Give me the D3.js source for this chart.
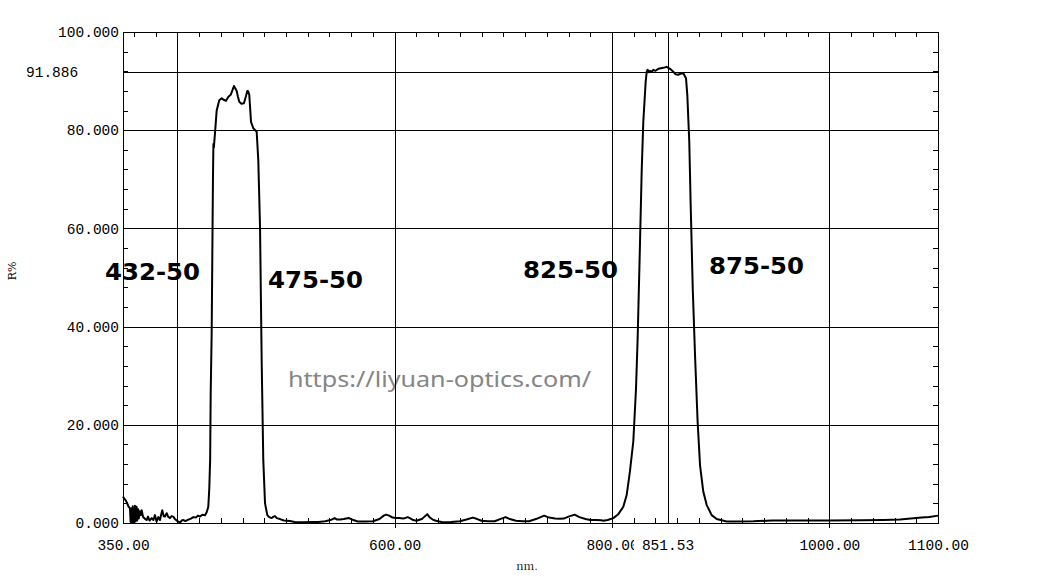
<!DOCTYPE html>
<html>
<head>
<meta charset="utf-8">
<script src="https://cdn.jsdelivr.net/npm/d3@7/dist/d3.min.js"></script>
<style>
  html, body { margin: 0; padding: 0; background: #fff; }
  svg { display: block; }
</style>
</head>
<body>
<svg id="chart" width="1061" height="577"></svg>
<script>
// ---- data ----
const wavelengths = [
  350,351,352.5,353.5,355,356.4,357,357.4,358,358.5,359,359.5,360,360.5,361,361.5,362.5,363,364,364.5,365.5,366.5,367.2,368.5,370,371.8,373,374.5,376.4,378,379.4,380.9,382.5,384,386.1,387.5,388.6,390.2,391.5,393.2,394.8,396.3,397.8,399.4,401,402.5,404,405.5,407.5,410.1,412.5,414.7,417,419,420.9,423,425.5,427,428.5,429.4,430.2,430.7,431.6,432.4,432.8,433.2,433.6,434.7,436.2,438.6,440.8,442.5,444.8,447,449.1,451,452.1,453.4,454.6,455.8,457,459,461.3,463,464.4,465.3,466.2,467,467.8,469.9,473,474.5,476.1,477.6,479.1,480.7,482.8,484.5,486.8,488.5,489.9,491.5,494.5,498,503.7,508,515,524,530,536,541,544.8,547,550,553,558,562,566,573,580,586,590,592,595,598,601,604,608,612,614,617,620,625,628,630,632,635,638,644,652,660,666,672,676,680,686,692,697,702,706,711.6,718,723.7,730,737.6,742,747.6,752,755.6,760,765.6,770,775.6,780,785.7,790,792,796,801.2,805.8,810.4,813.5,816.5,819.6,822.1,823.6,825.8,827.3,828.8,831,832,832.8,834,835,836.5,838,840,842.6,845,847.2,850.3,853.4,856.4,858.5,861,863,865.6,868.1,869.3,871.1,872.4,874.3,876.4,878.8,881,884,887.1,891.7,896.3,905.5,915,930,947,970,1000,1030,1050,1065,1075,1085,1092,1100
];
const reflectance = [
  5.4,5.0,4.6,4.2,3.4,3.0,0.3,0,3.0,0.2,3.4,0.1,2.6,0.4,3.5,0.3,3.3,0.5,2.8,0.9,2.4,1.6,2.6,1.2,0.9,0.6,1.3,0.5,1.0,0.6,1.6,0.3,1.2,0.6,2.6,1.4,1.3,2.0,1.3,1.0,1.4,1.3,0.8,0.5,0.3,0.1,0.5,0.6,0.4,0.7,0.9,1.2,1.1,1.5,1.3,1.7,1.6,2.2,3.3,7,13,26.5,38.7,60,70.5,77.2,76.5,79.5,84,86.1,86.5,86.2,86,86.8,87.2,88.3,89,88.5,88,86.8,85.8,85.4,85.5,86.8,88,87.9,87.2,84.5,81.7,80.4,79.7,73.9,60.3,33.2,12.8,4,1.6,1.2,1.0,1.3,1.4,1.0,0.8,0.5,0.4,0.2,0.15,0.2,0.2,0.35,0.6,1.0,0.7,0.7,0.8,1.0,0.6,0.3,0.3,0.35,0.8,1.5,1.7,1.5,1.1,1.0,1.0,0.9,1.2,1.0,0.6,0.45,0.8,1.4,1.8,1.2,0.7,0.45,0.15,0.2,0.35,0.7,1.1,0.8,0.45,0.35,0.35,0.8,1.2,0.8,0.45,0.35,0.35,0.8,1.5,1.1,0.9,0.85,0.9,1.3,1.7,1.2,0.8,0.6,0.6,0.55,0.45,0.6,1.0,1.8,3.3,5.7,10.5,16.6,27.4,37.6,57.3,71.5,81.7,89.9,92.0,92.3,91.8,92.1,91.9,92.3,92.1,92.5,92.6,92.7,92.9,92.5,91.9,91.4,91.3,91.5,91.6,90.6,87.2,77.7,64.8,47.8,34.2,20.6,11.8,6.4,3.7,1.6,0.8,0.3,0.3,0.35,0.5,0.5,0.5,0.55,0.6,0.7,0.9,1.1,1.2,1.5
];
const xTickValues = [350, 600, 800, 1000, 1100];
const xGridValues = [400, 600, 800, 1000];
const xMarker = 851.53;
const yTickValues = [0, 20, 40, 60, 80, 100];
const yMarker = 91.886;
const bandLabels = ["432-50", "475-50", "825-50", "875-50"];
const bandLabelPos = [[105, 280], [268, 288], [523, 278], [709, 274]];
const watermark = "https://liyuan-optics.com/";
const xTitle = "nm.";
const yTitle = "R%";

// ---- layout ----
const L = 123, R = 938, T = 32, B = 523;
const svg = d3.select("#chart");
svg.append("rect").attr("width", 1061).attr("height", 577).attr("fill", "#fff");

const x = d3.scaleLinear().domain([350, 1100]).range([L, R]);
const y = d3.scaleLinear().domain([0, 100]).range([B, T]);
const axisFont = "'Liberation Mono', 'DejaVu Sans Mono', monospace";

// watermark (under grid)
svg.append("text")
  .attr("x", 288).attr("y", 387)
  .attr("font-family", "'Noto Sans', 'Open Sans', sans-serif")
  .attr("font-size", 21)
  .attr("fill", "#858585")
  .attr("textLength", 303)
  .attr("lengthAdjust", "spacingAndGlyphs")
  .text(watermark);

const g = svg.append("g").attr("shape-rendering", "crispEdges");

// grid lines
g.selectAll(".vg").data(xGridValues.concat([xMarker])).enter().append("line")
  .attr("x1", d => Math.round(x(d)) + 0.5).attr("x2", d => Math.round(x(d)) + 0.5)
  .attr("y1", T).attr("y2", B).attr("stroke", "#000").attr("stroke-width", 1);
g.selectAll(".hg").data([20, 40, 60, 80, yMarker]).enter().append("line")
  .attr("y1", d => Math.round(y(d)) + 0.5).attr("y2", d => Math.round(y(d)) + 0.5)
  .attr("x1", L).attr("x2", R).attr("stroke", "#000").attr("stroke-width", 1);

// minor ticks
const xMinor = d3.range(360, 1100, 20);
const yMinor = d3.range(4, 100, 4);
xMinor.forEach(v => {
  const px = Math.round(x(v)) + 0.5;
  g.append("line").attr("x1", px).attr("x2", px).attr("y1", B).attr("y2", B - 5).attr("stroke", "#000");
  g.append("line").attr("x1", px).attr("x2", px).attr("y1", T).attr("y2", T + 5).attr("stroke", "#000");
});
yMinor.forEach(v => {
  const py = Math.round(y(v)) + 0.5;
  g.append("line").attr("y1", py).attr("y2", py).attr("x1", L).attr("x2", L + 5).attr("stroke", "#000");
  g.append("line").attr("y1", py).attr("y2", py).attr("x1", R).attr("x2", R - 5).attr("stroke", "#000");
});

// frame
g.append("rect").attr("x", L + 0.5).attr("y", T + 0.5).attr("width", R - L).attr("height", B - T)
  .attr("fill", "none").attr("stroke", "#000").attr("stroke-width", 1);

// x axis
const xAxis = d3.axisBottom(x).tickValues(xTickValues).tickFormat(d3.format(".2f"))
  .tickSizeInner(5).tickSizeOuter(0);
const xg = svg.append("g").attr("transform", `translate(0,${B})`).call(xAxis);
xg.select(".domain").remove();
xg.selectAll(".tick line").attr("stroke", "#000").attr("shape-rendering", "crispEdges")
  .attr("opacity", d => (d === 350 || d === 1100) ? 0 : 1);
xg.selectAll(".tick text").attr("y", 27).attr("dy", 0)
  .attr("font-family", axisFont).attr("font-size", 14.5).attr("fill", "#000");

// marker label on x axis with white background
const mx = Math.round(x(xMarker));
const mg = svg.append("g").attr("transform", `translate(${mx},${B + 27})`);
mg.append("rect").attr("x", -34).attr("y", -13).attr("width", 66).attr("height", 17).attr("fill", "#fff");
mg.append("text").attr("text-anchor", "middle").attr("font-family", axisFont)
  .attr("font-size", 14.5).attr("fill", "#000").text(d3.format(".2f")(xMarker));

// y axis
const yAxis = d3.axisLeft(y).tickValues(yTickValues).tickFormat(d3.format(".3f"))
  .tickSizeInner(0).tickSizeOuter(0).tickPadding(4);
const yg = svg.append("g").attr("transform", `translate(${L},0)`).call(yAxis);
yg.select(".domain").remove();
yg.selectAll(".tick text").attr("font-family", axisFont).attr("font-size", 14.5).attr("fill", "#000");

// marker label on y axis
svg.append("text").attr("x", 26).attr("y", y(yMarker) + 5)
  .attr("font-family", axisFont).attr("font-size", 14.5).attr("fill", "#000")
  .text(d3.format(".3f")(yMarker));

// axis titles
svg.append("text").attr("x", 527).attr("y", 570).attr("text-anchor", "middle")
  .attr("font-family", "'Noto Serif CJK SC', 'DejaVu Serif', serif").attr("font-size", 11).attr("fill", "#000")
  .text(xTitle);
svg.append("text").attr("transform", "translate(16,271) rotate(-90)").attr("text-anchor", "middle")
  .attr("font-family", "'DejaVu Serif', serif").attr("font-size", 11).attr("fill", "#000")
  .text(yTitle);

// curve
const pts = wavelengths.map((w, i) => [w, reflectance[i]]);
svg.append("path").datum(pts)
  .attr("d", d3.line().x(d => x(d[0])).y(d => y(d[1])))
  .attr("fill", "none").attr("stroke", "#000").attr("stroke-width", 2).attr("stroke-linejoin", "round");

// band labels
svg.selectAll(".bl").data(bandLabels).enter().append("text")
  .attr("x", (d, i) => bandLabelPos[i][0]).attr("y", (d, i) => bandLabelPos[i][1])
  .attr("font-family", "'DejaVu Sans', sans-serif").attr("font-weight", "bold")
  .attr("font-size", 23).attr("fill", "#000")
  .attr("textLength", 95).attr("lengthAdjust", "spacingAndGlyphs")
  .text(d => d);
</script>
</body>
</html>
